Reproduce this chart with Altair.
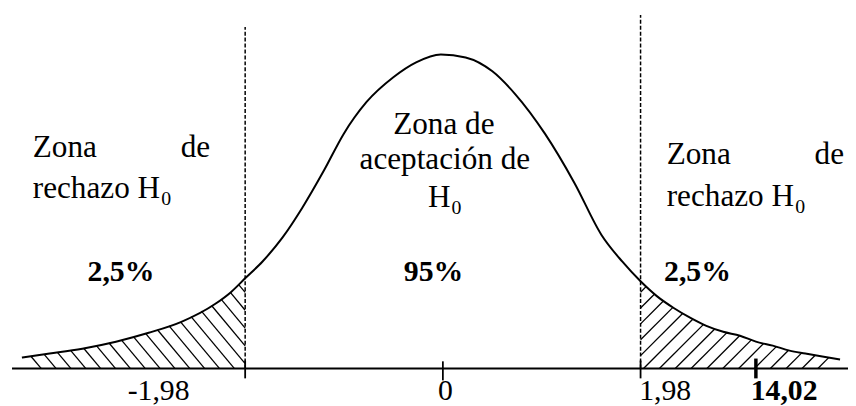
import numpy as np
import pandas as pd
import altair as alt

# ---------------- data ----------------
# bell curve (x in z units, height in density-like units)
curve_z = [-4.216, -3.938, -3.611, -3.274, -2.946, -2.619, -2.282, -2.123, -1.98,
           -1.806, -1.607, -1.409, -1.190, -0.992, -0.764, -0.496, -0.268, -0.02,
           0.228, 0.496, 0.724, 1.022, 1.319, 1.587, 1.796, 1.98, 2.143, 2.312,
           2.480, 2.639, 2.808, 2.976, 3.135, 3.304, 3.472, 3.631, 3.800, 3.978]
curve_h = [0.0138, 0.0188, 0.025, 0.0338, 0.045, 0.0588, 0.0813, 0.0963, 0.1138,
           0.135, 0.165, 0.2025, 0.25, 0.2963, 0.3363, 0.3675, 0.3863, 0.3963,
           0.3925, 0.375, 0.3463, 0.2963, 0.2338, 0.1688, 0.135, 0.11, 0.0913, 0.0763,
           0.0638, 0.0538, 0.0463, 0.0413, 0.0338, 0.0288, 0.0225, 0.0188, 0.015, 0.0113]

crit_low, crit_high = -1.98, 1.98
stat_z = 3.135                      # where the "14,02" mark sits on the drawn axis
axis_from, axis_to = -4.315, 4.0575

dash_tops = [0.431, 0.446]

tick_text = ["-1,98", "0", "1,98"]
tick_text_z = [-2.847, 0.0248, 2.227]
stat_text = ["14,02"]
stat_text_z = [3.418]
label_h = -0.04

pct_text = ["2,5%", "95%", "2,5%"]
pct_z = [-3.224, -0.094, 2.550]
pct_h = [0.11, 0.11, 0.111]

left_text = ["Zona", "rechazo H", "Zona", "rechazo H", "H"]
left_z = [-4.107, -4.107, 2.242, 2.242, -0.149]
left_h = [0.2663, 0.215, 0.2575, 0.205, 0.2038]

right_text = ["de", "de"]
right_z = [-2.331, 4.018]
right_h = [0.2663, 0.2575]

center_text = ["Zona de", "aceptación de"]
center_z = [0.0099, 0.0198]
center_h = [0.2963, 0.2513]

sub_text = ["0", "0", "0"]
sub_z = [-2.821, 3.528, 0.0863]
sub_h = [0.2063, 0.19625, 0.195]

# ---------------- layout ----------------
W, H = 848, 398
XDOM = [-4.3552, 4.0575]
YDOM = [-0.045, 0.4525]
PXZ = W / (XDOM[1] - XDOM[0])
PXH = H / (YDOM[1] - YDOM[0])
FONT = "Liberation Serif"

xs = alt.Scale(domain=XDOM, nice=False, zero=False)
ys = alt.Scale(domain=YDOM, nice=False, zero=False)

# ---------------- hatching derived from the curve ----------------
fz = np.linspace(curve_z[0], curve_z[-1], 8000)
fh = np.interp(fz, curve_z, curve_h)
segs = []
sL = 1.2 * PXZ / PXH
c_low = float(np.interp(crit_low, curve_z, curve_h))
for j in range(-16, 7):
    zb = crit_low + (4 + 15 * j) / PXZ
    if zb <= crit_low:
        z0, h0 = zb, 0.0
    else:
        z0, h0 = crit_low, (zb - crit_low) * sL
        if h0 >= c_low:
            continue
    line = (zb - fz) * sL
    ok = (fz <= z0) & (line >= fh)
    if not ok.any():
        continue
    z1 = fz[ok].max()
    segs.append((z0, h0, z1, (zb - z1) * sL))

sR = 1.0 * PXZ / PXH
c_high = float(np.interp(crit_high, curve_z, curve_h))
for j in range(-7, 14):
    zb = crit_high + (3 + 16 * j) / PXZ
    if zb >= crit_high:
        z0, h0 = zb, 0.0
    else:
        z0, h0 = crit_high, (crit_high - zb) * sR
        if h0 >= c_high:
            continue
    line = (fz - zb) * sR
    ok = (fz >= z0) & (line >= fh)
    if not ok.any():
        continue
    z1 = fz[ok].min()
    segs.append((z0, h0, z1, (z1 - zb) * sR))

hatch_df = pd.DataFrame(segs, columns=["x", "y", "x2", "y2"])


def rules(df, width, dash=None):
    kw = dict(color="black", strokeWidth=width)
    if dash:
        kw["strokeDash"] = dash
    return alt.Chart(df).mark_rule(**kw).encode(
        x=alt.X("x:Q", scale=xs, axis=None),
        x2="x2:Q",
        y=alt.Y("y:Q", scale=ys, axis=None),
        y2="y2:Q",
    )


def texts(labels, zs, hs, align, size, weight="normal"):
    df = pd.DataFrame({"t": labels, "x": zs, "y": hs})
    return alt.Chart(df).mark_text(
        align=align, baseline="alphabetic", font=FONT, fontSize=size,
        fontWeight=weight, color="black"
    ).encode(
        x=alt.X("x:Q", scale=xs, axis=None),
        y=alt.Y("y:Q", scale=ys, axis=None),
        text="t:N",
    )


hatch = rules(hatch_df, 1.3)
axis_line = rules(pd.DataFrame({"x": [axis_from], "x2": [axis_to], "y": [0.0], "y2": [0.0]}), 2)
dashed = rules(pd.DataFrame({"x": [crit_low, crit_high], "x2": [crit_low, crit_high],
                             "y": [0.0, 0.0], "y2": dash_tops}), 1.5, [4, 2])
ticks = rules(pd.DataFrame({"x": [crit_low, 0.0, crit_high], "x2": [crit_low, 0.0, crit_high],
                            "y": [-0.0125, -0.015, -0.0125], "y2": [0.01, 0.009, 0.01]}), 1.8)
stat_tick = rules(pd.DataFrame({"x": [stat_z], "x2": [stat_z], "y": [-0.0125], "y2": [0.0125]}), 3.5)

curve = alt.Chart(pd.DataFrame({"z": curve_z, "h": curve_h})).mark_line(
    color="black", strokeWidth=2, interpolate="monotone"
).encode(
    x=alt.X("z:Q", scale=xs, axis=None),
    y=alt.Y("h:Q", scale=ys, axis=None),
)

layers = [
    hatch, axis_line, dashed, ticks, stat_tick, curve,
    texts(left_text, left_z, left_h, "left", 31.5),
    texts(right_text, right_z, right_h, "right", 31.5),
    texts(center_text, center_z, center_h, "center", 31.5),
    texts(sub_text, sub_z, sub_h, "left", 20),
    texts(pct_text, pct_z, pct_h, "center", 30, "bold"),
    texts(tick_text, tick_text_z, [label_h] * len(tick_text), "center", 30),
    texts(stat_text, stat_text_z, [label_h], "center", 30, "bold"),
]

chart = alt.layer(*layers).properties(
    width=W, height=H, padding=0, background="white",
    autosize=alt.AutoSizeParams(type="none"),
).configure_view(stroke=None)

chart.save("out.html", embed_options={"renderer": "svg", "actions": False})
